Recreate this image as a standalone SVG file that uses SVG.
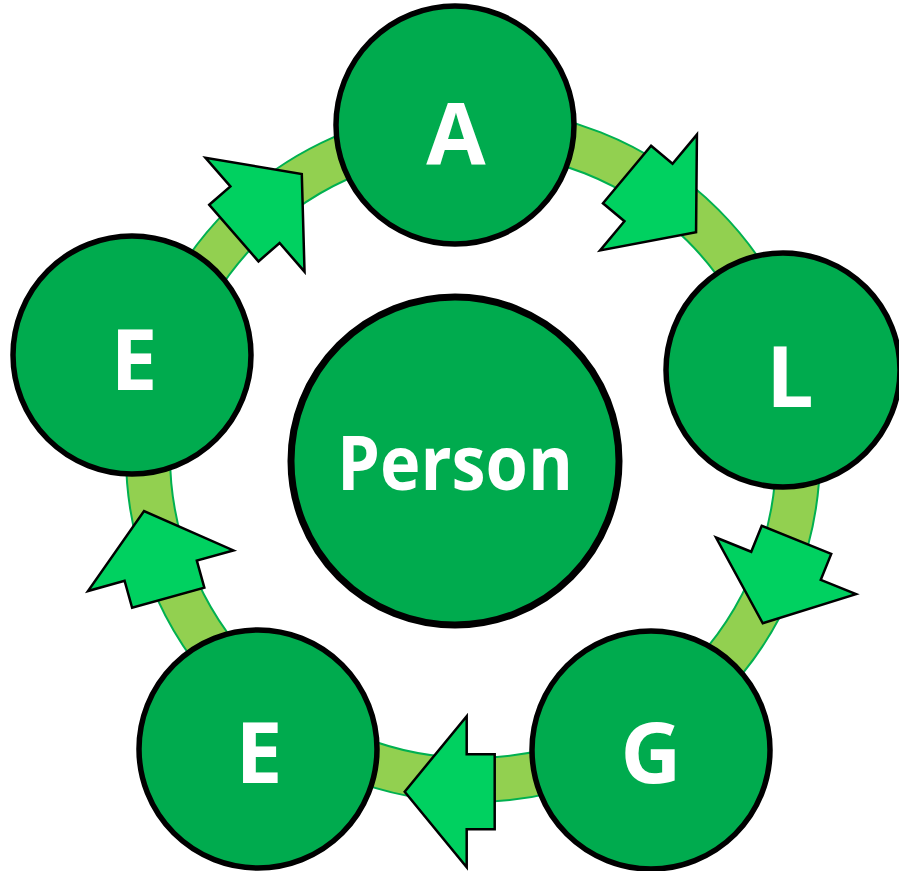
<svg xmlns="http://www.w3.org/2000/svg" width="899" height="871" viewBox="0 0 899 871">
<style>
.node{fill:#00AB4E;stroke:#000;stroke-width:5.5}
.lbl{fill:#fff;font-family:"Open Sans","Liberation Sans",sans-serif;font-weight:700;text-anchor:middle}
.arr{fill:#00D160;stroke:#000;stroke-width:2.5;stroke-linejoin:miter}
</style>
<defs>
<path id="blk" d="M-28,-37.5 H0 V-75.5 L62,0 L0,75.5 V37.5 H-28 Z"/>
</defs>
<rect width="899" height="871" fill="#fff"/>
<g id="ring">
<circle cx="473" cy="455" r="325" fill="none" stroke="#00B050" stroke-width="46"/>
<circle cx="473" cy="455" r="325" fill="none" stroke="#92D050" stroke-width="42"/>
</g>
<g id="connectors">
<use href="#blk" class="arr" transform="translate(648.5,192.5) rotate(39.9)"/>
<use href="#blk" class="arr" transform="translate(786,565.8) rotate(112)"/>
<use href="#blk" class="arr" transform="translate(466.7,791.7) rotate(180)"/>
<use href="#blk" class="arr" transform="translate(160.7,570.7) rotate(-105.6)"/>
<use href="#blk" class="arr" transform="translate(255,214.7) rotate(-41)"/>
</g>
<g id="node-A"><circle class="node" cx="455" cy="125" r="119"/><text class="lbl" x="456" y="165" font-size="86">A</text></g>
<g id="node-L"><circle class="node" cx="783" cy="370" r="117"/><text class="lbl" x="790" y="407" font-size="84">L</text></g>
<g id="node-G"><circle class="node" cx="651" cy="750" r="119"/><text class="lbl" x="651" y="783" font-size="84">G</text></g>
<g id="node-E2"><circle class="node" cx="258" cy="749" r="119"/><text class="lbl" x="259" y="783" font-size="84">E</text></g>
<g id="node-E1"><circle class="node" cx="132" cy="355" r="119"/><text class="lbl" x="134" y="390" font-size="84">E</text></g>
<g id="node-Person"><circle cx="455" cy="461" r="164" fill="#00AB4E" stroke="#000" stroke-width="7"/><text class="lbl" x="455" y="490" font-size="76" textLength="236" lengthAdjust="spacingAndGlyphs">Person</text></g>
</svg>
